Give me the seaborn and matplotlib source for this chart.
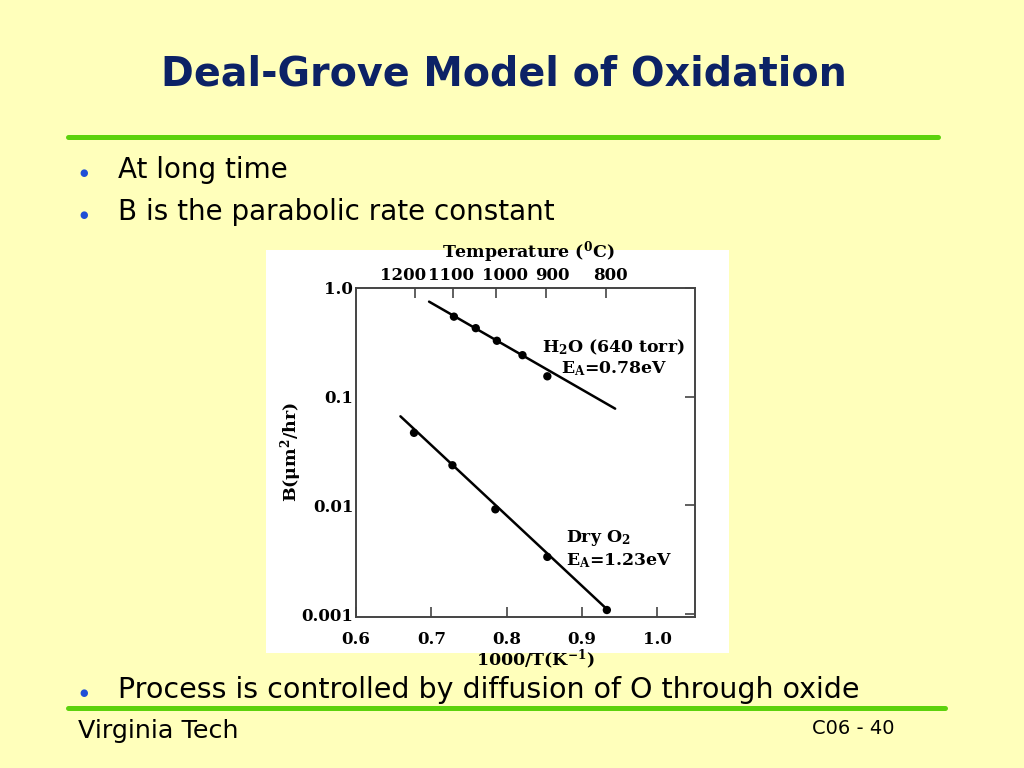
"""Deal-Grove slide: parabolic rate constant B vs 1000/T (log scale)."""

import matplotlib
matplotlib.use("Agg")
import matplotlib.pyplot as plt
from matplotlib.lines import Line2D
from matplotlib.patches import Rectangle
from matplotlib.ticker import NullLocator
from matplotlib.transforms import ScaledTranslation
import seaborn as sns

# data
h2o_x = [0.730, 0.759, 0.787, 0.821, 0.854]
h2o_b = [0.545, 0.427, 0.327, 0.241, 0.154]
h2o_fit_x = [0.697, 0.944]
h2o_fit_b = [0.749, 0.0776]

dry_x = [0.677, 0.728, 0.785, 0.854, 0.933]
dry_b = [0.0465, 0.0234, 0.0092, 0.00336, 0.00109]
dry_fit_x = [0.659, 0.9355]
dry_fit_b = [0.066, 0.00107]

temps_c = [1200, 1100, 1000, 900, 800]
x_ticks = [0.6, 0.7, 0.8, 0.9, 1.0]
x_ticklabels = ["0.6", "0.7", "0.8", "0.9", "1.0"]
y_ticks = [0.001, 0.01, 0.1, 1.0]
y_ticklabels = ["0.001", "0.01", "0.1", "1.0"]

title = "Deal-Grove Model of Oxidation"
bullets_top = ["At long time", "B is the parabolic rate constant"]
bullet_bottom = "Process is controlled by diffusion of O through oxide"

BG = "#FFFFBB"
NAVY = "#0C2266"
GREEN = "#5CD20C"
BLUE = "#1F4FD6"
SERIF = "DejaVu Serif"
SANS = "DejaVu Sans"

sns.set_style("white")
plt.rcParams.update({
    "font.family": [SANS],
    "mathtext.fontset": "custom",
    "mathtext.rm": "DejaVu Serif:bold",
    "mathtext.it": "DejaVu Serif:bold",
    "mathtext.bf": "DejaVu Serif:bold",
    "mathtext.default": "rm",
})

W, H = 1024, 768


def px(x, y):
    return x / W, 1 - y / H


fig = plt.figure(figsize=(10.24, 7.68), dpi=100)
fig.patch.set_facecolor(BG)

# slide furniture
fig.text(*px(504, 75), title, ha="center", va="center", fontsize=28.5,
         fontweight="bold", color=NAVY, family=SANS)
fig.add_artist(Line2D([68 / W, 938 / W], [1 - 137 / H] * 2, color=GREEN, lw=3.6))
fig.add_artist(Line2D([68 / W, 945 / W], [1 - 708 / H] * 2, color=GREEN, lw=3.6))

for text, y in zip(bullets_top, [178, 220]):
    fig.text(*px(84, y - 5), "\u25CF", ha="center", va="center", fontsize=7, color=BLUE)
    fig.text(*px(118, y), text, ha="left", va="baseline", fontsize=20, color="black")
fig.text(*px(84, 693), "\u25CF", ha="center", va="center", fontsize=7, color=BLUE)
fig.text(*px(118, 698), bullet_bottom, ha="left", va="baseline", fontsize=20.5, color="black")

fig.text(*px(78, 738), "Virginia Tech", ha="left", va="baseline", fontsize=18.3, color="black")
fig.text(*px(895, 734), "C06 - 40", ha="right", va="baseline", fontsize=14, color="black")

# white panel behind the chart
fig.add_artist(Rectangle(px(266, 653), (729 - 266) / W, (653 - 250) / H,
                         transform=fig.transFigure, facecolor="white",
                         edgecolor="none", zorder=0))

ax = fig.add_axes([356 / W, 1 - 617 / H, 339 / W, 329 / H])
ax.set_facecolor("white")
ax.set_yscale("log")

sns.lineplot(x=h2o_fit_x, y=h2o_fit_b, ax=ax, color="black", lw=1.8)
sns.lineplot(x=dry_fit_x, y=dry_fit_b, ax=ax, color="black", lw=1.8)
sns.scatterplot(x=h2o_x, y=h2o_b, ax=ax, color="black", s=36, edgecolor="none", zorder=3)
sns.scatterplot(x=dry_x, y=dry_b, ax=ax, color="black", s=36, edgecolor="none", zorder=3)

ax.set_xlim(0.6, 1.05)
ax.set_ylim(0.00094, 1.0)
tick_font = dict(fontweight="bold", family=SERIF, fontsize=12)
ax.set_xticks(x_ticks, labels=x_ticklabels, **tick_font)
ax.set_yticks(y_ticks, labels=y_ticklabels, **tick_font)
ax.yaxis.set_minor_locator(NullLocator())
ax.xaxis.set_minor_locator(NullLocator())
ax.tick_params(axis="x", direction="in", length=7, width=1.2, color="#444444",
               labelcolor="black", pad=10)
ax.tick_params(axis="y", direction="in", length=7, width=1.2, color="#444444",
               labelcolor="black", right=True, pad=2)
for s in ax.spines.values():
    s.set_color("#444444")
    s.set_linewidth(1.4)

# temperature axis on top
top = ax.twiny()
top.set_xlim(ax.get_xlim())
top.set_xticks([1000 / (t + 273) for t in temps_c], labels=[str(t) for t in temps_c],
               **tick_font)
top.xaxis.set_minor_locator(NullLocator())
top.tick_params(axis="x", direction="in", length=7, width=1.2, color="#444444",
                labelcolor="black", pad=3)
for s in top.spines.values():
    s.set_visible(False)
# the original labels sit a little off their ticks; nudge them (pixels)
nudge = [-12, -2, 9, 6, 4]
for label, dx in zip(top.get_xticklabels(), nudge):
    label.set_transform(label.get_transform() + ScaledTranslation(dx / 100, 0, fig.dpi_scale_trans))

lab = dict(fontweight="bold", family=SERIF, color="black")
fig.text(*px(528, 252), "Temperature ($^{0}$C)", ha="center", va="center", fontsize=12.5, **lab)
fig.text(*px(535, 660), "1000/T(K$^{-1}$)", ha="center", va="center", fontsize=12.5, **lab)
fig.text(*px(291, 452), "B(\u03bcm$^{2}$/hr)", ha="center", va="center", fontsize=12.5,
         rotation=90, **lab)

fig.text(*px(542, 347), "H$_{2}$O (640 torr)", ha="left", va="center", fontsize=12.4, **lab)
fig.text(*px(561, 369), "E$_{A}$=0.78eV", ha="left", va="center", fontsize=12.4, **lab)
fig.text(*px(566, 538), "Dry O$_{2}$", ha="left", va="center", fontsize=12.4, **lab)
fig.text(*px(566, 561), "E$_{A}$=1.23eV", ha="left", va="center", fontsize=12.4, **lab)

fig.savefig("out.png", dpi=100, facecolor=BG)
print("Saved out.png")
